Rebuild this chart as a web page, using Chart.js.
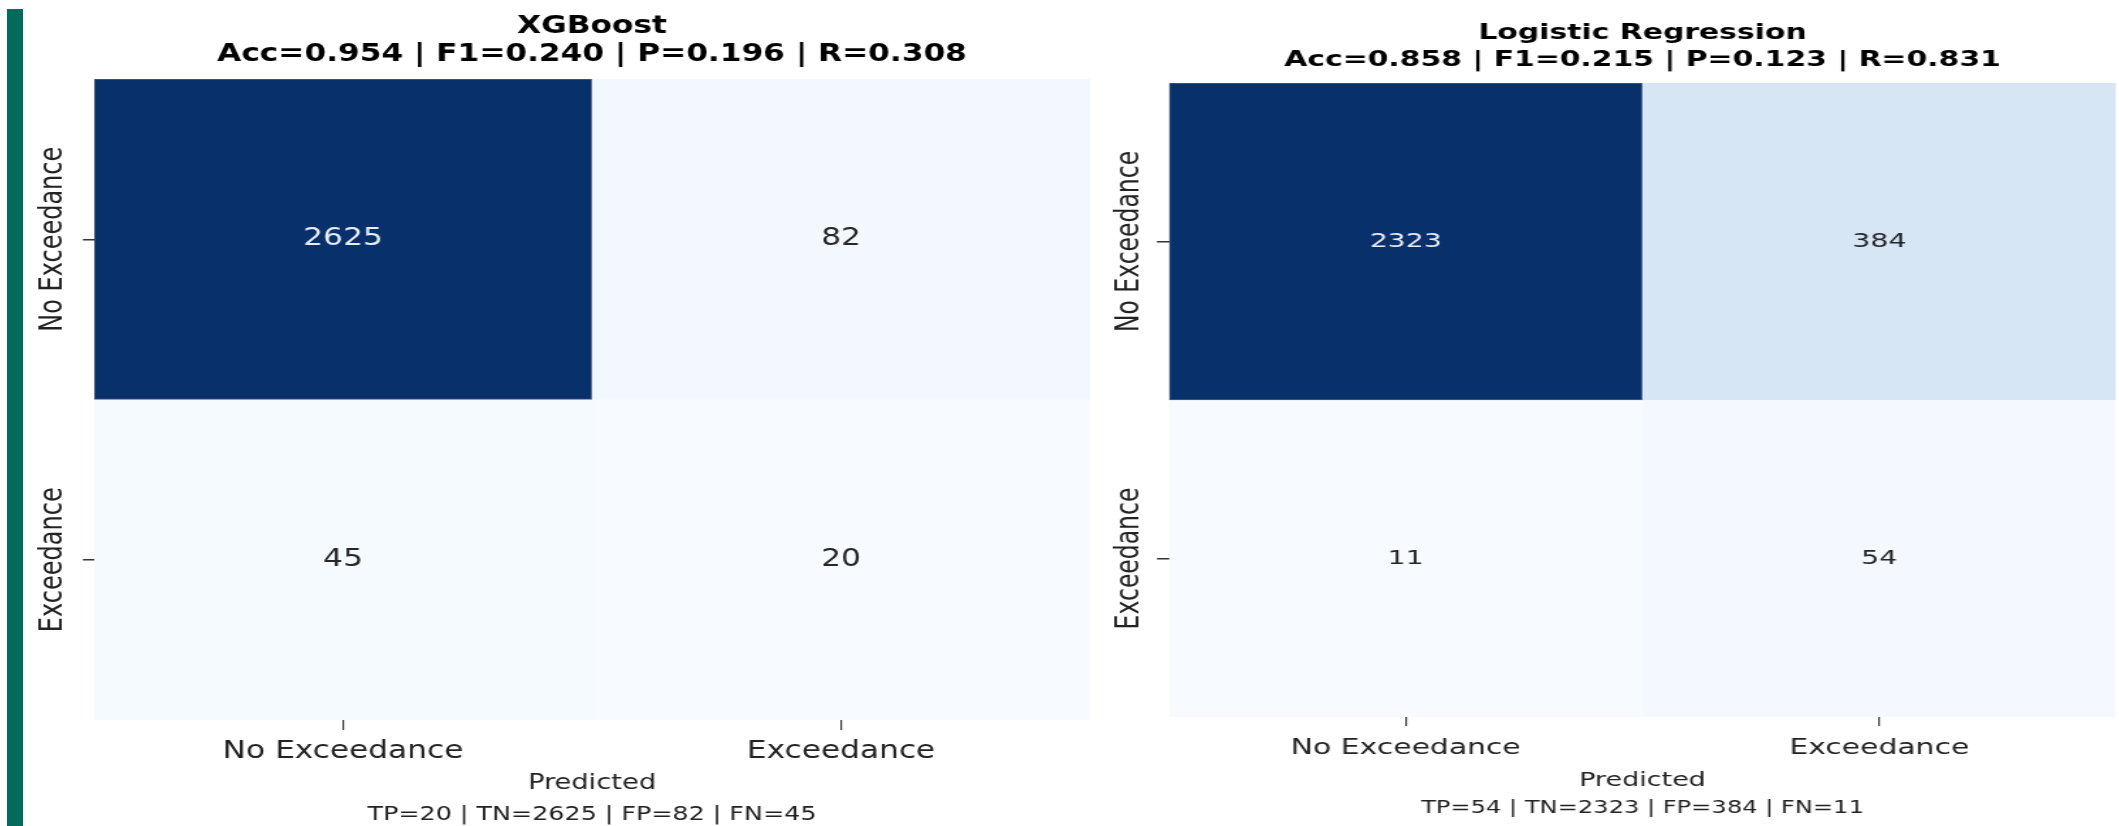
<!DOCTYPE html>
<html>
<head>
<meta charset="utf-8">
<script src="https://cdn.jsdelivr.net/npm/chart.js@4.4.1/dist/chart.umd.min.js"></script>
<style>
  html, body { margin: 0; padding: 0; background: #ffffff; width: 2119px; height: 826px; overflow: hidden; }
  #accent { position: absolute; left: 7px; top: 9px; width: 16px; height: 817px; background: #036b5a; }
  .panel { position: absolute; top: 0; height: 826px; transform-origin: 0 0; }
  #panelA { left: 24px; transform: scaleX(1.3); }
  #panelB { left: 1100px; transform: scaleX(1.42); }
  canvas { display: block; }
</style>
</head>
<body>
<div id="accent"></div>
<div class="panel" id="panelA"><canvas id="chartA" width="830" height="826"></canvas></div>
<div class="panel" id="panelB"><canvas id="chartB" width="718" height="826"></canvas></div>
<script>
// ---------- data ----------
const classLabels = ['No Exceedance', 'Exceedance'];
const modelNames = ['XGBoost', 'Logistic Regression'];
// confusion matrices: one array per actual class, values per predicted class
const xgbActualNo = [2625, 82];
const xgbActualEx = [45, 20];
const lrActualNo = [2323, 384];
const lrActualEx = [11, 54];
const xgbScores = ['Acc=0.954', 'F1=0.240', 'P=0.196', 'R=0.308'];
const lrScores = ['Acc=0.858', 'F1=0.215', 'P=0.123', 'R=0.831'];
const xAxisTitle = 'Predicted';

// ---------- styling ----------
const FAMILY = "'DejaVu Sans', sans-serif";
Chart.defaults.font.family = FAMILY;
Chart.defaults.animation = false;

const bluesStops = ['#f7fbff','#deebf7','#c6dbef','#9ecae1','#6baed6','#4292c6','#2171b5','#08519c','#08306b'];
function hexRgb(h) { return [1,3,5].map(i => parseInt(h.substr(i,2),16)); }
function blues(t) {
  t = Math.max(0, Math.min(1, t));
  const p = t * 8, i = Math.min(7, Math.floor(p)), f = p - i;
  const a = hexRgb(bluesStops[i]), b = hexRgb(bluesStops[i+1]);
  return a.map((v,k) => Math.round(v + (b[k]-v)*f));
}
function rgbStr(c) { return `rgb(${c[0]},${c[1]},${c[2]})`; }
function luminance(c) {
  const l = c.map(v => { v /= 255; return v <= 0.03928 ? v/12.92 : Math.pow((v+0.055)/1.055, 2.4); });
  return 0.2126*l[0] + 0.7152*l[1] + 0.0722*l[2];
}

const cellValues = {
  id: 'cellValues',
  afterDatasetsDraw(chart, args, opts) {
    const ctx = chart.ctx;
    chart.data.datasets.forEach((ds, di) => {
      chart.getDatasetMeta(di).data.forEach((bar, j) => {
        const v = ds.counts[j];
        const c = ds.cellRgb[j];
        const p = bar.getCenterPoint();
        ctx.save();
        ctx.font = `${opts.size}px ${FAMILY}`;
        ctx.fillStyle = luminance(c) > 0.408 ? '#262626' : '#e8edf5';
        ctx.textAlign = 'center';
        ctx.textBaseline = 'middle';
        ctx.fillText(String(v), p.x, p.y);
        ctx.restore();
      });
    });
  }
};

const rowLabels = {
  id: 'rowLabels',
  afterDraw(chart, args, opts) {
    const s = chart.scales.y, ctx = chart.ctx;
    s.ticks.forEach(t => {
      const y = s.getPixelForValue(t.value);
      ctx.save();
      ctx.translate(s.left + opts.x, y);
      ctx.rotate(-Math.PI / 2);
      ctx.font = `${opts.size}px ${FAMILY}`;
      ctx.fillStyle = '#222';
      ctx.textAlign = 'center';
      ctx.textBaseline = 'middle';
      ctx.fillText(classLabels[t.value], 0, 0);
      ctx.restore();
    });
  }
};

function buildChart(canvasId, name, scores, rows, g) {
  const all = rows.flat();
  const vmin = Math.min(...all), vmax = Math.max(...all);
  const tp = rows[1][1], tn = rows[0][0], fp = rows[0][1], fn = rows[1][0];
  const datasets = rows.map((counts, r) => {
    const cellRgb = counts.map(v => blues((v - vmin) / (vmax - vmin)));
    return {
      label: classLabels[r],
      data: counts.map(() => [r - 0.5, r + 0.5]),
      counts,
      cellRgb,
      backgroundColor: cellRgb.map(c => rgbStr(c)),
      borderColor: cellRgb.map(c => luminance(c) > 0.408 ? rgbStr(c) : rgbStr(c.map(v => Math.round(v + (150 - v) * 0.45)))),
      borderWidth: 1.2,
      borderSkipped: false,
      grouped: false,
      barPercentage: 1,
      categoryPercentage: 1
    };
  });
  return new Chart(document.getElementById(canvasId), {
    type: 'bar',
    data: { labels: classLabels, datasets },
    plugins: [cellValues, rowLabels],
    options: {
      responsive: false,
      animation: false,
      layout: { padding: { top: g.padTop, bottom: g.padBottom, left: 0, right: g.padRight } },
      plugins: {
        legend: { display: false },
        tooltip: { enabled: false },
        title: {
          display: true, fullSize: false,
          text: [name, scores.join(' | ')],
          color: '#000',
          font: { size: g.titleFont, weight: 'bold', family: FAMILY, lineHeight: g.titleLH + 'px' },
          padding: { top: 0, bottom: g.titleBottom }
        },
        subtitle: {
          display: true, fullSize: false, position: 'bottom',
          text: `TP=${tp} | TN=${tn} | FP=${fp} | FN=${fn}`,
          color: '#222',
          font: { size: g.subFont, family: FAMILY, lineHeight: 1 },
          padding: 0
        },
        cellValues: { size: g.valueFont },
        rowLabels: { x: g.yLabelX, size: g.yLabelFont }
      },
      scales: {
        x: {
          type: 'category', offset: true,
          grid: { display: true, drawOnChartArea: false, drawTicks: true, tickLength: g.xTickLen, color: '#333', lineWidth: 1.2, offset: false },
          border: { display: false },
          ticks: { font: { size: g.xTickFont, family: FAMILY }, color: '#222', padding: g.xTickPad, minRotation: 0, maxRotation: 0, autoSkip: false },
          title: { display: true, text: xAxisTitle, color: '#222', font: { size: g.predFont, family: FAMILY }, padding: { top: 0, bottom: g.predPadBottom } },
          afterFit: s => { s.height = g.xHeight; }
        },
        y: {
          type: 'linear', min: -0.5, max: 1.5, reverse: true,
          afterBuildTicks: s => { s.ticks = classLabels.map((_, i) => ({ value: i })); },
          grid: { display: true, drawOnChartArea: false, drawTicks: true, tickLength: g.yTickLen, color: '#333', lineWidth: 1.5 },
          border: { display: false },
          ticks: { display: false },
          afterFit: s => { s.width = g.yWidth; }
        }
      }
    }
  });
}

const layoutA = { padTop: 13, titleFont: 24, titleLH: 28, titleBottom: 10, padRight: 10, padBottom: 1.5,
  yWidth: 53.85, yTickLen: 8.5, yLabelX: 22.3, yLabelFont: 24,
  xTickLen: 10, xTickPad: 7, xTickFont: 24, xHeight: 85, predFont: 21, predPadBottom: 8.9, subFont: 19.5, valueFont: 24 };
const layoutB = { padTop: 20.75, titleFont: 21, titleLH: 26.5, titleBottom: 9.25, padRight: 2.5, padBottom: 9,
  yWidth: 48.6, yTickLen: 8.5, yLabelX: 21.1, yLabelFont: 23.5,
  xTickLen: 9, xTickPad: 9.5, xTickFont: 21, xHeight: 83, predFont: 19, predPadBottom: 7.6, subFont: 17, valueFont: 20 };

buildChart('chartA', modelNames[0], xgbScores, [xgbActualNo, xgbActualEx], layoutA);
buildChart('chartB', modelNames[1], lrScores, [lrActualNo, lrActualEx], layoutB);
</script>
</body>
</html>
